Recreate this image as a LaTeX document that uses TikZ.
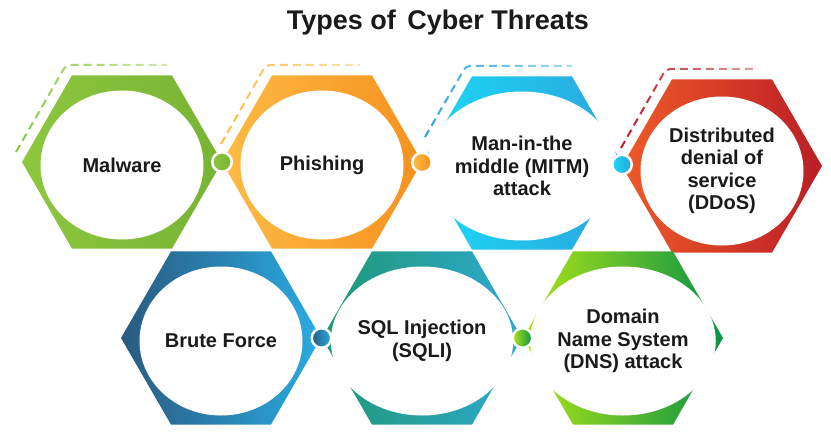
\documentclass[tikz,border=0pt]{standalone}
\usepackage{fontspec}
\setmainfont{Liberation Sans}
\usetikzlibrary{shapes.geometric,calc,fadings}
\definecolor{txt}{HTML}{1A1A1A}
\definecolor{gL}{HTML}{8DC73F}\definecolor{gR}{HTML}{78B434}
\definecolor{oL}{HTML}{FDBB45}\definecolor{oR}{HTML}{F6911E}
\definecolor{bL}{HTML}{1CD9F6}\definecolor{bR}{HTML}{2AA5DE}
\definecolor{rL}{HTML}{EF5A28}\definecolor{rR}{HTML}{BA1E26}
\definecolor{nL}{HTML}{2A5A80}\definecolor{nR}{HTML}{2AACE3}
\definecolor{sL}{HTML}{1F9874}\definecolor{sM}{HTML}{22A088}\definecolor{sR}{HTML}{2EA9D0}
\definecolor{dL}{HTML}{B0E516}\definecolor{dM}{HTML}{18A03E}\definecolor{dR}{HTML}{0A9246}
\tikzfading[name=fadeR, left color=transparent!0, middle color=transparent!5, right color=transparent!60]
\newcommand\hexfill[2]{\path[#2] (#1.corner 1) -- (#1.corner 2) -- (#1.corner 3) -- (#1.corner 4) -- (#1.corner 5) -- (#1.corner 6) -- cycle;}
\begin{document}
\begin{tikzpicture}[x=1pt,y=1pt,
  hexa/.style={regular polygon, regular polygon sides=6, minimum size=200pt, inner sep=0pt, outer sep=0pt, draw=none},
  hole/.style={ellipse, fill=white, minimum width=163pt, minimum height=149pt, inner sep=0pt,
    font=\bfseries\fontsize{20}{22.5}\selectfont, text=txt, align=center},
  knot/.style={circle, draw=white, line width=2.5pt, minimum size=19.5pt, inner sep=0pt},
  dashline/.style={line width=2pt, dash pattern=on 8pt off 5pt, rounded corners=4pt, path fading=fadeR},
]
\useasboundingbox (0,0) rectangle (831,-437);
\fill[white] (0,0) rectangle (831,-437);

\node[font=\bfseries\fontsize{27}{31}\selectfont, text=txt] (title) at (438,-23) {Types of\hspace{4pt} Cyber Threats};

% hexagons
\node[hexa] (h1) at (122,-162) {};
\node[hexa] (h2) at (322,-162) {};
\node[hexa] (h3) at (522,-163) {};
\node[hexa] (h4) at (722,-166) {};
\node[hexa] (h5) at (221,-338) {};
\node[hexa] (h6) at (422,-338) {};
\node[hexa] (h7) at (623,-338) {};
\hexfill{h1}{left color=gL, right color=gR}
\hexfill{h2}{left color=oL, right color=oR}
\hexfill{h3}{left color=bL, right color=bR}
\hexfill{h4}{left color=rL, right color=rR}
\hexfill{h5}{left color=nL, middle color=nR!85!nL, right color=nR}
\hexfill{h6}{left color=sL, middle color=sM, right color=sR}
\hexfill{h7}{left color=dL, middle color=dM, right color=dR}

% white holes with labels
\node[hole] (t1) at ($(h1)+(0,-3)$) {Malware};
\node[hole] (t2) at ($(h2)+(0,-3)$) {Phishing};
\node[hole] (t3) at ($(h3)+(0,-3)$) {Man-in-the\\middle (MITM)\\attack};
\node[hole] (t4) at ($(h4)+(0,-5)$) {Distributed\\denial of\\service\\(DDoS)};
\node[hole] (t5) at ($(h5)+(0,-3)$) {Brute Force};
\node[hole] (t6) at ($(h6)+(0,-3)$) {SQL Injection\\(SQLI)};
\node[hole] (t7) at ($(h7)+(0,-3)$) {Domain\\Name System\\(DNS) attack};

% joints
\node[knot, left color=gL, right color=gR] (k1) at ($(h1)!0.5!(h2)$) {};
\node[knot, left color=oL, right color=oR] (k2) at ($(h2)!0.5!(h3)$) {};
\node[knot, left color=bL, right color=bR] (k3) at ($(h3)!0.5!(h4)$) {};
\node[knot, left color=nL, right color=nR] (k4) at ($(h5)!0.5!(h6)$) {};
\node[knot, left color=dL, right color=dR] (k5) at ($(h6)!0.5!(h7)$) {};

% dashed outlines
\draw[dashline, gL] ($(h1)+(-106,10)$) -- ($(h1)+(-56,97)$) -- ($(h1)+(45,97)$);
\draw[dashline, oL] ($(h2)+(-101,18)$) -- ($(h2)+(-56,97)$) -- ($(h2)+(38,97)$);
\draw[dashline, bR] ($(h3)+(-97,26)$) -- ($(h3)+(-56,97)$) -- ($(h3)+(50,97)$);
\draw[dashline, rR] ($(h4)+(-101,18)$) -- ($(h4)+(-56,97)$) -- ($(h4)+(36,97)$);
\end{tikzpicture}
\end{document}
